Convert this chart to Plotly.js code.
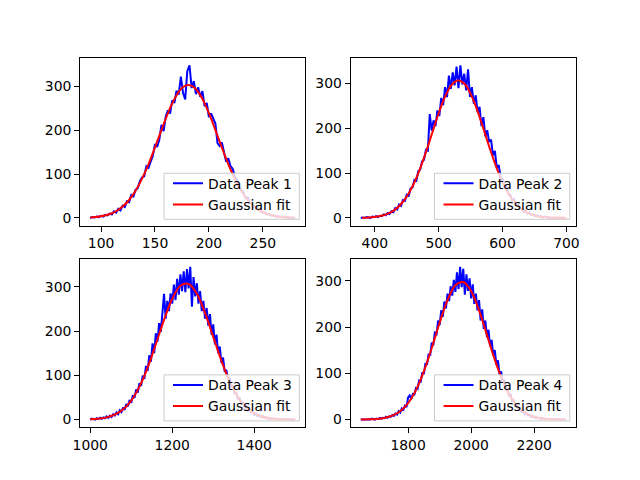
<!DOCTYPE html>
<html>
<head>
<meta charset="utf-8">
<script src="https://cdn.plot.ly/plotly-3.0.1.min.js"></script>
<style>html,body{margin:0;padding:0;background:#fff;}#chart{width:640px;height:480px;}</style>
</head>
<body>
<div id="chart"></div>
<script>
// ---- Peak 1 ----
const peak1Start = 90, peak1Step = 2;
const peak1Counts = [
  0,2,1,3,2,5,3,7,6,10,8,15,
  12,21,17,28,25,38,36,52,49,64,68,84,
  92,95,118,114,128,141,168,162,178,212,198,231,
  245,238,268,262,290,281,322,285,270,335,348,296,
  312,282,298,276,289,255,262,230,238,225,215,170,
  164,172,150,128,136,118,112,95,88,72,64,58,
  45,47,34,33,24,26,19,17,12,13,8,9,
  5,6,3,4,2,3,1,2,0,1,0,1
];
const fit1Start = 90, fit1Step = 5;
const fit1Values = [1.3,2.3,4.0,6.7,10.8,17.0,25.9,38.1,54.3,74.8,99.8,128.6,160.6,193.8,226.4,255.8,279.7,295.9,302.8,299.8,287.2,266.2,238.7,207.0,173.8,141.1,110.8,84.2,61.9,44.1,30.4,20.2,13.0,8.1,4.9,2.9,1.6,0.9,0.5];

// ---- Peak 2 ----
const peak2Start = 378, peak2Step = 3;
const peak2Counts = [
  0,1,0,2,1,0,3,2,4,2,5,4,
  8,6,11,9,15,13,22,19,30,27,40,38,
  52,50,66,68,85,83,104,108,126,130,152,150,
  232,195,218,205,240,228,268,252,292,270,318,288,
  325,296,338,290,341,298,322,285,332,270,292,255,
  274,236,248,205,225,182,196,170,175,140,150,112,
  118,92,86,68,72,54,52,40,42,29,30,22,
  21,14,16,10,12,7,8,4,6,3,4,1,
  3,1,2,0,1,0,1,0,0,1,0,0
];
const fit2Start = 380, fit2Step = 10;
const fit2Values = [0.5,1.1,2.4,4.8,9.3,17.0,29.4,47.8,73.6,106.9,146.9,190.6,233.8,270.9,296.7,306.9,300.0,277.1,241.9,199.5,155.4,114.4,79.6,52.3,32.5,19.1,10.6,5.5,2.7,1.3,0.6,0.2,0.1];

// ---- Peak 3 ----
const peak3Start = 1000, peak3Step = 4;
const peak3Counts = [
  0,2,1,0,3,1,4,2,5,3,7,4,
  9,6,12,9,16,12,21,17,27,22,35,30,
  44,38,55,49,68,61,82,76,99,92,121,110,
  145,131,172,150,195,176,218,198,240,284,228,268,
  245,285,262,305,270,318,282,328,290,335,288,340,
  296,345,255,322,278,308,262,290,245,268,228,252,
  212,238,192,215,170,192,150,165,128,140,108,112,
  90,95,72,76,58,62,46,50,36,40,28,31,
  21,24,16,19,11,14,8,11,6,8,4,6,
  2,4,1,3,1,2,0,2,0,1,0,1,
  0,0,1,0,0,0
];
const fit3Start = 1000, fit3Step = 20;
const fit3Values = [0.7,2.0,4.9,11.0,22.7,42.9,74.3,117.5,170.1,225.2,272.8,302.3,306.3,284.0,240.8,186.8,132.6,86.1,51.1,27.8,13.8,6.3,2.6,1.0,0.3,0.1];

// ---- Peak 4 ----
const peak4Start = 1650, peak4Step = 5;
const peak4Counts = [
  0,0,1,0,0,1,0,2,1,0,2,1,
  3,2,4,3,6,4,7,6,10,8,13,11,
  18,15,24,21,30,27,48,52,44,55,54,68,
  66,84,82,102,98,122,118,142,138,166,160,190,
  182,214,204,236,222,255,240,272,256,288,268,302,
  276,318,282,330,286,326,270,314,278,305,262,292,
  250,272,236,258,214,238,196,214,178,194,158,172,
  138,150,118,128,98,104,80,86,64,68,52,54,
  40,42,31,33,23,25,17,19,12,14,9,11,
  6,8,4,6,3,4,2,3,1,2,1,1,
  0,1,0,1,0,0,1,0,0,0,0
];
const fit4Start = 1650, fit4Step = 25;
const fit4Values = [0.15,0.5,1.4,3.6,8.4,18.1,35.6,63.7,104.0,154.5,209.2,258.0,290.1,297.2,277.4,236.0,182.9,129.2,83.2,48.8,26.1,12.7,5.6,2.3,0.8,0.3,0.1];

const peakLabels = ["Data Peak 1","Data Peak 2","Data Peak 3","Data Peak 4"];
const fitLabel = "Gaussian fit";
const xTicks = [[100,150,200,250],[400,500,600,700],[1000,1200,1400],[1800,2000,2200]];
const yTicks = [0,100,200,300];

function grid(start, step, n){ const a=[]; for(let i=0;i<n;i++) a.push(start+i*step); return a; }

const series = [
  {s:peak1Start, d:peak1Step, y:peak1Counts, fs:fit1Start, fd:fit1Step, fy:fit1Values},
  {s:peak2Start, d:peak2Step, y:peak2Counts, fs:fit2Start, fd:fit2Step, fy:fit2Values},
  {s:peak3Start, d:peak3Step, y:peak3Counts, fs:fit3Start, fd:fit3Step, fy:fit3Values},
  {s:peak4Start, d:peak4Step, y:peak4Counts, fs:fit4Start, fd:fit4Step, fy:fit4Values}
];

const FONT = {family:"DejaVu Sans, sans-serif", size:13.9, color:"#000"};
const traces = [];
series.forEach((p,i)=>{
  const k = i+1;
  const lg = k===1 ? "legend" : "legend"+k;
  traces.push({x:grid(p.s,p.d,p.y.length), y:p.y, xaxis:"x"+(k===1?"":k), yaxis:"y"+(k===1?"":k),
    type:"scatter", mode:"lines", line:{color:"blue", width:2}, name:peakLabels[i], legend:lg, hoverinfo:"skip"});
  traces.push({x:grid(p.fs,p.fd,p.fy.length), y:p.fy, xaxis:"x"+(k===1?"":k), yaxis:"y"+(k===1?"":k),
    type:"scatter", mode:"lines", line:{color:"red", width:2, shape:"spline", smoothing:1}, name:fitLabel, legend:lg, hoverinfo:"skip"});
});

const xDom = [[0.125,0.47727],[0.54773,0.9],[0.125,0.47727],[0.54773,0.9]];
const yDom = [[0.53,0.88],[0.53,0.88],[0.11,0.46],[0.11,0.46]];
const xRanges = [[80.5,289.5],[361.95,715.05],[975,1525],[1617.5,2332.5]];
const yRanges = [[-17.4,365.4],[-17.05,358.05],[-17.25,362.25],[-16.5,346.5]];

const layout = {
  width:640, height:480,
  margin:{l:0,r:0,t:0,b:0},
  paper_bgcolor:"#fff", plot_bgcolor:"#fff",
  font:FONT, showlegend:true, shapes:[]
};
function axisBase(){
  return {showline:true, mirror:true, linecolor:"#000", linewidth:1, ticks:"outside", ticklen:4.9, tickwidth:1,
    tickcolor:"#000", showgrid:false, zeroline:false, tickfont:FONT, fixedrange:true};
}
// legend frames (paper fractions) and legend anchor points
const boxX = [[0.2563,0.4677],[0.6789,0.8903],[0.2563,0.4677],[0.6789,0.8903]];
const boxY = [[0.5431,0.6390],[0.5431,0.6390],[0.1231,0.2190],[0.1231,0.2190]];
const legPos = [[0.2625,0.5400],[0.6852,0.5400],[0.2625,0.1200],[0.6852,0.1200]];
for(let i=0;i<4;i++){
  const k=i+1, sx = k===1?"":k;
  layout["xaxis"+sx] = Object.assign(axisBase(), {domain:xDom[i], range:xRanges[i], tickvals:xTicks[i], anchor:"y"+sx});
  layout["yaxis"+sx] = Object.assign(axisBase(), {domain:yDom[i], range:yRanges[i], tickvals:yTicks, anchor:"x"+sx});
  const lk = k===1?"legend":"legend"+k;
  layout[lk] = {x:legPos[i][0], y:legPos[i][1], xanchor:"left", yanchor:"bottom",
    bgcolor:"rgba(0,0,0,0)", borderwidth:0, font:FONT, tracegroupgap:0};
  layout.shapes.push({type:"rect", xref:"paper", yref:"paper", x0:boxX[i][0], x1:boxX[i][1], y0:boxY[i][0], y1:boxY[i][1],
    fillcolor:"rgba(255,255,255,0.8)", line:{color:"#cccccc", width:1}, layer:"above"});
}

Plotly.newPlot("chart", traces, layout, {displayModeBar:false, staticPlot:true});
</script>
</body>
</html>
